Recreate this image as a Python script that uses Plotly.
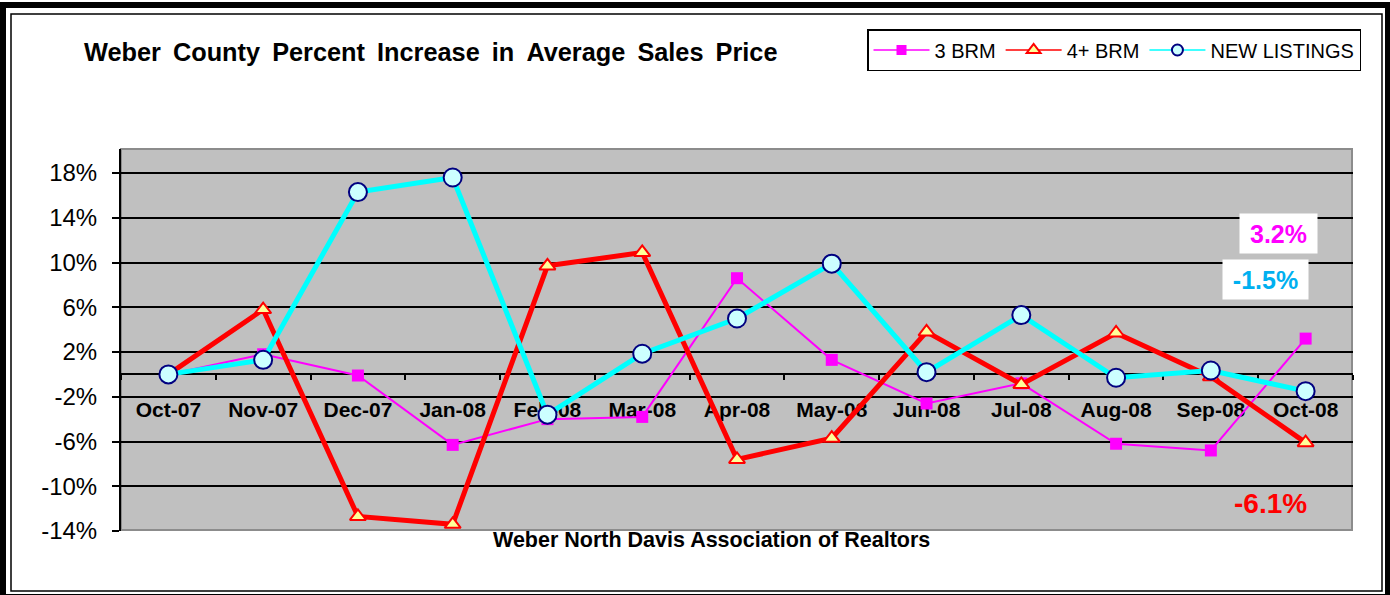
import plotly.graph_objects as go

months = ["Oct-07", "Nov-07", "Dec-07", "Jan-08", "Feb-08", "Mar-08", "Apr-08",
          "May-08", "Jun-08", "Jul-08", "Aug-08", "Sep-08", "Oct-08"]
brm3 = [0.0, 1.8, -0.1, -6.3, -4.0, -3.8, 8.6, 1.3, -2.6, -0.8, -6.2, -6.8, 3.2]
brm4 = [0.0, 5.8, -12.7, -13.4, 9.7, 10.9, -7.6, -5.7, 3.8, -0.9, 3.7, -0.2, -6.1]
new_listings = [0.0, 1.3, 16.3, 17.6, -3.6, 1.85, 5.0, 9.9, 0.2, 5.3, -0.3, 0.35, -1.5]
y_tickvals = [-14, -10, -6, -2, 2, 6, 10, 14, 18]
y_ticktext = ["-14%", "-10%", "-6%", "-2%", "2%", "6%", "10%", "14%", "18%"]
y_range = [-14, 20.15]

W, H = 1390, 595
ML, MR, MT, MB = 121, 37, 149, 64
PW, PH = W - ML - MR, H - MT - MB
FONT = "Liberation Sans, Arial, sans-serif"


def xp(px):
    return (px - ML) / PW


def yp(py):
    return (H - MB - py) / PH


series = [
    dict(name="3 BRM", y=brm3, color="#FF00FF", width=2,
         marker=dict(symbol="square", size=12, color="#FF00FF"),
         legend_marker=dict(symbol="square", size=10, color="#FF00FF")),
    dict(name="4+ BRM", y=brm4, color="#FF0000", width=5,
         marker=dict(symbol="triangle-up", size=14, color="#FFFF99",
                     line=dict(color="#FF0000", width=2)),
         legend_marker=dict(symbol="triangle-up", size=12, color="#FFFF99",
                            line=dict(color="#FF0000", width=2))),
    dict(name="NEW LISTINGS", y=new_listings, color="#00FFFF", width=5,
         marker=dict(symbol="circle", size=18, color="#CCFFFF",
                     line=dict(color="#000080", width=2)),
         legend_marker=dict(symbol="circle", size=11, color="#CCFFFF",
                            line=dict(color="#000080", width=2))),
]

fig = go.Figure()
for s in series:
    fig.add_trace(go.Scatter(
        x=months, y=s["y"], name=s["name"], mode="lines+markers",
        line=dict(color=s["color"], width=s["width"]),
        marker=s["marker"], legendgroup=s["name"], showlegend=False))
for s in series:
    # legend-only proxy with thin line, as in the original legend
    fig.add_trace(go.Scatter(
        x=[None], y=[None], name=s["name"], mode="lines+markers",
        line=dict(color=s["color"], width=1.5),
        marker=s["legend_marker"], legendgroup=s["name"], showlegend=True,
        hoverinfo="skip"))

zero_pos = (0 - y_range[0]) / (y_range[1] - y_range[0])

fig.update_layout(
    width=W, height=H,
    margin=dict(l=ML, r=MR, t=MT, b=MB, autoexpand=False),
    paper_bgcolor="white", plot_bgcolor="#C0C0C0",
    font=dict(family=FONT, color="black"),
    title=dict(text="<b>Weber \u2009County \u2009Percent \u2009Increase \u2009in \u2009Average \u2009Sales \u2009Price</b>",
               x=84 / W, xanchor="left", y=1 - 52 / H, yanchor="middle",
               xref="container", yref="container",
               font=dict(family=FONT, size=25.3, color="black")),
    showlegend=True,
    legend=dict(orientation="h", x=xp(867), y=yp(29), xanchor="left", yanchor="top",
                bgcolor="white", bordercolor="black", borderwidth=1.5,
                font=dict(family=FONT, size=20, color="black"),
                itemwidth=56, traceorder="normal"),
    xaxis=dict(type="category", range=[-0.5, len(months) - 0.5],
               anchor="free", position=zero_pos,
               showline=True, linecolor="black", linewidth=2,
               ticks="outside", tickson="boundaries", ticklen=5, tickwidth=2,
               tickcolor="black", showgrid=False, zeroline=False,
               tickfont=dict(family=FONT, size=21, color="black", weight="bold"),
               ticklabelstandoff=16, layer="below traces", fixedrange=True),
    yaxis=dict(range=y_range, tickvals=y_tickvals, ticktext=y_ticktext,
               showline=True, linecolor="black", linewidth=2,
               ticks="outside", ticklen=7, tickwidth=2, tickcolor="black",
               showgrid=True, gridcolor="black", gridwidth=2,
               zeroline=True, zerolinecolor="black", zerolinewidth=2,
               tickfont=dict(family=FONT, size=24, color="black"),
               ticklabelstandoff=10, layer="below traces", fixedrange=True),
)

shapes = [
    # plot area shadow border
    dict(type="rect", xref="paper", yref="paper", x0=xp(121), x1=xp(1352), y0=yp(530), y1=yp(149),
         line=dict(color="#8C8C8C", width=2), layer="below"),
    # outer thick frame
    dict(type="rect", xref="paper", yref="paper", x0=xp(3), x1=xp(1388), y0=yp(597), y1=yp(5),
         line=dict(color="black", width=6), layer="above"),
    # inner thin frame
    dict(type="rect", xref="paper", yref="paper", x0=xp(11), x1=xp(1382), y0=yp(591), y1=yp(14),
         line=dict(color="black", width=1.5), layer="above"),
]
fig.update_layout(shapes=shapes)

fig.add_annotation(text="<b>Weber North Davis Association of Realtors</b>", xref="paper", yref="paper",
                   x=xp(711), y=yp(540), xanchor="center", yanchor="middle", showarrow=False,
                   font=dict(family=FONT, size=21.5, color="black"))
fig.add_annotation(text="<b>3.2%</b>", xref="paper", yref="paper",
                   x=xp(1278), y=yp(233.5), xanchor="center", yanchor="middle", showarrow=False,
                   bgcolor="white", width=70, height=32, borderpad=3.5,
                   font=dict(family=FONT, size=25, color="#FF00FF"))
fig.add_annotation(text="<b>-1.5%</b>", xref="paper", yref="paper",
                   x=xp(1265.5), y=yp(279.5), xanchor="center", yanchor="middle", showarrow=False,
                   bgcolor="white", width=78, height=32, borderpad=3.5,
                   font=dict(family=FONT, size=25, color="#00B0F0"))
fig.add_annotation(text="<b>-6.1%</b>", xref="paper", yref="paper",
                   x=xp(1270), y=yp(503), xanchor="center", yanchor="middle", showarrow=False,
                   font=dict(family=FONT, size=28, color="#FF0000"))

fig.write_html("out.html", config={"displayModeBar": False},
               post_script="document.body.style.margin='0px';document.body.style.overflow='hidden';")
